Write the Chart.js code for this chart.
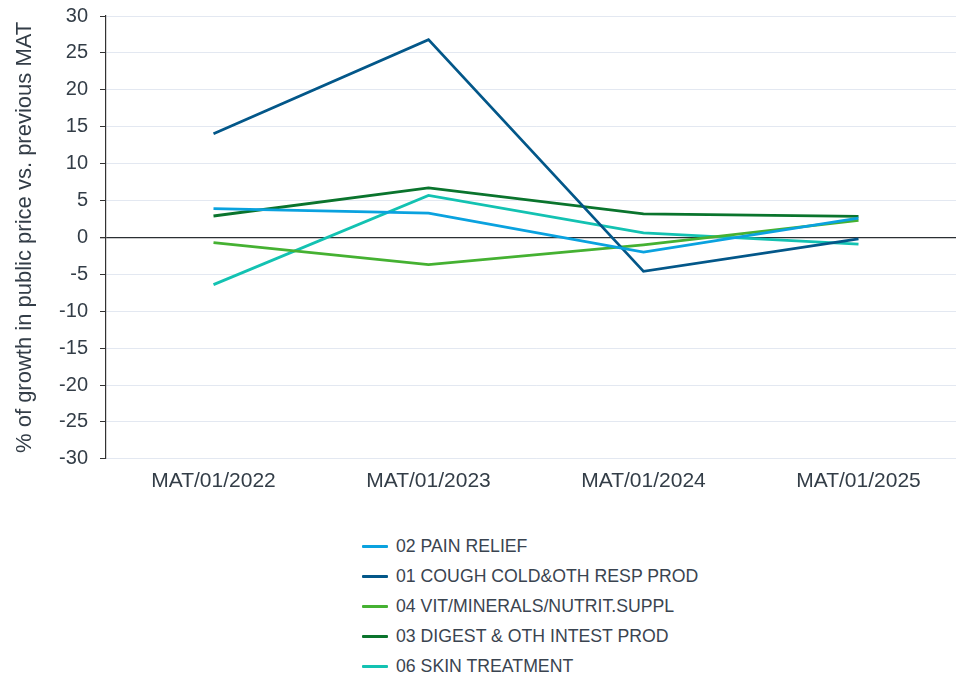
<!DOCTYPE html>
<html>
<head>
<meta charset="utf-8">
<script src="https://cdn.jsdelivr.net/npm/chart.js@4/dist/chart.umd.min.js"></script>
<style>
  html, body { margin: 0; padding: 0; background: #fff; overflow: hidden; width: 956px; height: 678px; }
  #wrap { position: absolute; left: 0; top: -6px; width: 966px; height: 517px; }
  #legend { position: absolute; left: 362px; top: 531px; font-family: "Liberation Sans", Arial, sans-serif; font-size: 17.7px; color: #3a4450; }
  .item { height: 30px; display: flex; align-items: center; }
  .sw { width: 26px; height: 3px; margin-right: 8px; border-radius: 1px; }
</style>
</head>
<body>
<div id="wrap"><canvas id="c" width="966" height="517"></canvas></div>
<div id="legend"></div>
<script>
const categories = ["MAT/01/2022", "MAT/01/2023", "MAT/01/2024", "MAT/01/2025"];
const seriesNames = ["02 PAIN RELIEF", "01 COUGH COLD&OTH RESP PROD", "04 VIT/MINERALS/NUTRIT.SUPPL", "03 DIGEST & OTH INTEST PROD", "06 SKIN TREATMENT"];
const painRelief = [3.9, 3.3, -2.0, 2.6];
const coughCold = [14.05, 26.8, -4.6, -0.2];
const vitMinerals = [-0.7, -3.7, -1.0, 2.3];
const digest = [2.9, 6.7, 3.2, 2.85];
const skin = [-6.4, 5.7, 0.6, -0.9];
const yTicks = [-30, -25, -20, -15, -10, -5, 0, 5, 10, 15, 20, 25, 30];
const colors = ["#0aa2df", "#035789", "#45b132", "#0a742d", "#13c2b2"];

const seriesValues = [painRelief, coughCold, vitMinerals, digest, skin];
const datasets = seriesNames.map((n, i) => ({
  label: n,
  data: seriesValues[i],
  borderColor: colors[i],
  backgroundColor: colors[i],
  borderWidth: 2.8,
  pointRadius: 0,
  pointHoverRadius: 0,
  tension: 0,
  fill: false
}));

const txt = "#333d47";
const chart = new Chart(document.getElementById("c"), {
  type: "line",
  data: { labels: categories, datasets: datasets },
  options: {
    responsive: false,
    animation: false,
    layout: { padding: { top: 1, right: 0, left: 0, bottom: 7 } },
    plugins: { legend: { display: false }, tooltip: { enabled: false } },
    scales: {
      x: {
        offset: true,
        grid: { display: false, drawTicks: false },
        border: { display: false },
        ticks: { color: txt, font: { family: "Liberation Sans", size: 21 }, padding: 10, maxRotation: 0 }
      },
      y: {
        min: -30, max: 30,
        afterBuildTicks: (s) => { s.ticks = yTicks.map(v => ({ value: v })); },
        afterFit: (s) => { s.width = 106; },
        grid: {
          color: (ctx) => (ctx.tick && ctx.tick.value === 0) ? "#2b2f33" : "#e3e8f1",
          lineWidth: (ctx) => (ctx.tick && ctx.tick.value === 0) ? 1.3 : 1,
          tickColor: "#333",
          tickLength: 6,
          drawTicks: true
        },
        border: { display: true, color: "#333", width: 1.2 },
        ticks: { color: txt, font: { family: "Liberation Sans", size: 20, lineHeight: 1 }, padding: 12 },
        title: {
          display: true,
          text: "% of growth in public price vs. previous MAT",
          color: txt,
          font: { family: "Liberation Sans", size: 22 },
          padding: { top: 12, bottom: 0 }
        }
      }
    }
  }
});

const leg = document.getElementById("legend");
seriesNames.forEach((n, i) => {
  const d = document.createElement("div");
  d.className = "item";
  const s = document.createElement("div");
  s.className = "sw";
  s.style.background = colors[i];
  const t = document.createElement("span");
  t.textContent = n;
  d.appendChild(s); d.appendChild(t);
  leg.appendChild(d);
});
</script>
</body>
</html>
